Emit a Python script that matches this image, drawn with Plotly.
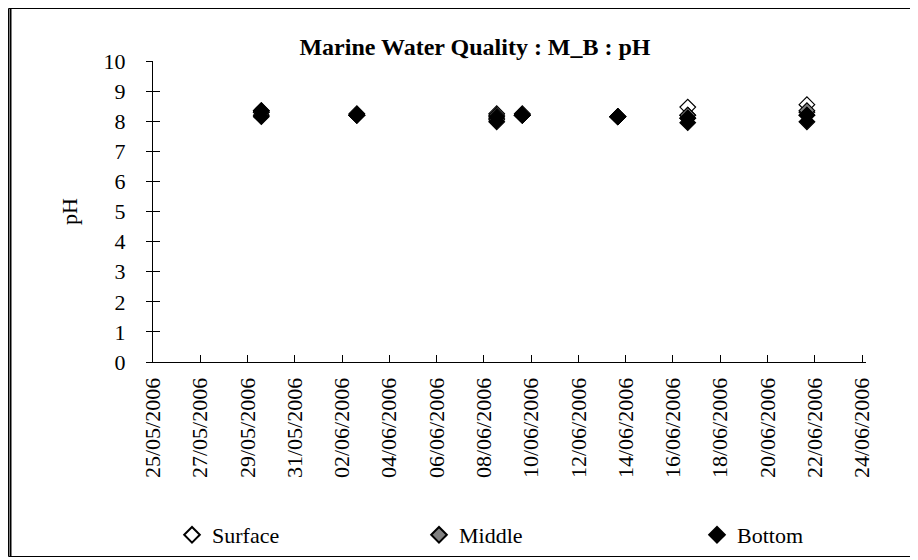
import plotly.graph_objects as go

# ---- data ----
sample_times = ["2006-05-29 14:00", "2006-05-29 14:00",
                "2006-06-02 15:00", "2006-06-02 15:00",
                "2006-06-08 13:00", "2006-06-08 13:00",
                "2006-06-09 15:00", "2006-06-09 15:00",
                "2006-06-13 16:00", "2006-06-13 16:00",
                "2006-06-16 15:00", "2006-06-16 15:00",
                "2006-06-21 16:00", "2006-06-21 16:00"]
surface_ph = [8.35, 8.3, 8.25, 8.2, 8.25, 8.2, 8.2, 8.25, 8.15, 8.15, 8.47, 8.2, 8.55, 8.3]
middle_ph = [8.3, 8.2, 8.2, 8.2, 8.1, 8.05, 8.2, 8.2, 8.15, 8.15, 8.2, 8.1, 8.35, 8.2]
bottom_ph = [8.35, 8.15, 8.2, 8.2, 7.98, 8.15, 8.2, 8.2, 8.15, 8.15, 7.95, 8.1, 7.98, 8.2]

x_tick_start = "2006-05-25"
x_range = ["2006-05-25", "2006-06-24 04:00"]
y_range = [0, 10]

FONT = "Liberation Serif, Times New Roman, serif"

fig = go.Figure()
series = [
    ("Surface", surface_ph, "white", "legend"),
    ("Middle", middle_ph, "#808080", "legend2"),
    ("Bottom", bottom_ph, "black", "legend3"),
]
for name, vals, fill, leg in series:
    fig.add_trace(go.Scatter(
        x=sample_times, y=vals, mode="markers", name=name, legend=leg,
        marker=dict(symbol="diamond", size=12, color=fill,
                    line=dict(color="black", width=1.2)),
    ))

# invisible trace on overlay axis for cross ticks
fig.add_trace(go.Scatter(x=[x_range[0]], y=[0], yaxis="y2", mode="markers",
                         marker=dict(opacity=0), showlegend=False, hoverinfo="skip"))

# the page body has an 8px margin: figure coordinates = window coordinates - 8
OFF = 8
W, H = 910, 552
L, T = 153 - OFF, 61 - OFF
R = W - (866 - OFF)
B = H - (362 - OFF)
pw, ph = W - L - R, H - T - B

def px(xw):
    return (xw - OFF - L) / pw

def py(yw):
    return (H - B - (yw - OFF)) / ph

def cx(xw):
    return (xw - OFF) / W

def cy(yw):
    return 1 - (yw - OFF) / H

legend_common = dict(orientation="h", yanchor="middle", xanchor="left",
                     xref="container", yref="container",
                     font=dict(family=FONT, size=22, color="black"),
                     bgcolor="rgba(0,0,0,0)", itemsizing="constant")
fig.update_layout(
    width=W, height=H,
    margin=dict(l=L, r=R, t=T, b=B, autoexpand=False),
    paper_bgcolor="white", plot_bgcolor="white",
    font=dict(family=FONT, color="black", size=22),
    title=dict(text="<b>Marine Water Quality : M_B : pH</b>",
               x=cx(475), xref="container", xanchor="center",
               y=cy(47), yref="container", yanchor="middle",
               font=dict(family=FONT, size=24, color="black")),
    xaxis=dict(type="date", range=x_range, tick0=x_tick_start, dtick=2 * 86400000,
               tickformat="%d/%m/%Y", tickangle=-90, ticks="inside", ticklen=7,
               tickcolor="black", showline=True, linecolor="black", linewidth=1,
               showgrid=False, zeroline=False, ticklabelstandoff=6, automargin=False,
               tickfont=dict(family=FONT, size=22, color="black")),
    yaxis=dict(range=y_range, dtick=1, ticks="outside", ticklen=6, tickcolor="black",
               showline=True, linecolor="black", linewidth=1, showgrid=False,
               zeroline=False, ticklabelstandoff=16, automargin=False,
               tickfont=dict(family=FONT, size=22, color="black"),
               title=dict(text="pH", standoff=19,
                          font=dict(family=FONT, size=22, color="black"))),
    yaxis2=dict(range=y_range, dtick=1, overlaying="y", side="left", ticks="inside",
                ticklen=7, tickcolor="black", showticklabels=False, showgrid=False,
                zeroline=False, showline=False, automargin=False),
    legend=dict(x=cx(172), y=cy(535), **legend_common),
    legend2=dict(x=cx(419), y=cy(535), **legend_common),
    legend3=dict(x=cx(697), y=cy(535), **legend_common),
    showlegend=True,
)

# outer chart frame
fig.add_shape(type="rect", xref="paper", yref="paper",
              x0=px(8.5), x1=px(911.5), y0=py(556.5), y1=py(8.5),
              line=dict(color="black", width=1))
fig.add_shape(type="line", xref="paper", yref="paper",
              x0=px(10.5), x1=px(10.5), y0=py(556.5), y1=py(8.5),
              line=dict(color="black", width=2))

fig.write_html("out.html")
